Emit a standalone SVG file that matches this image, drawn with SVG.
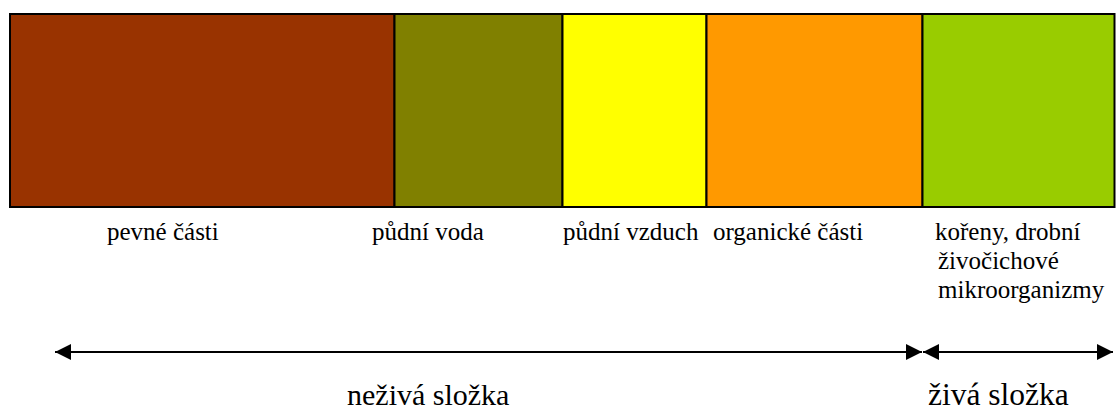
<svg xmlns="http://www.w3.org/2000/svg" width="1119" height="412" viewBox="0 0 1119 412">
<style>
.seg{stroke:#000;stroke-width:2}
text{font-family:'Liberation Serif','Times New Roman',serif;fill:#000}
.lbl{font-size:25px}
.big{font-size:30px}
.conn{stroke:#000;stroke-width:2;fill:none}
</style>
<defs>
<marker id="ah" viewBox="0 0 16 16" refX="16" refY="8" markerWidth="16" markerHeight="16" markerUnits="userSpaceOnUse" orient="auto-start-reverse">
<path d="M0,0 L16,8 L0,16 Z" fill="#000"/>
</marker>
</defs>
<rect x="0" y="0" width="1119" height="412" fill="#fff"/>
<g id="pevne"><rect class="seg" x="10" y="14" width="384.5" height="193" fill="#993300"/></g>
<g id="voda"><rect class="seg" x="394.5" y="14" width="168" height="193" fill="#808000"/></g>
<g id="vzduch"><rect class="seg" x="562.5" y="14" width="144" height="193" fill="#ffff00"/></g>
<g id="organicke"><rect class="seg" x="706.5" y="14" width="216" height="193" fill="#ff9900"/></g>
<g id="zive"><rect class="seg" x="922.5" y="14" width="192" height="193" fill="#99cc00"/></g>
<g id="labels" font-family="Liberation Serif, serif">
<text class="lbl" x="107" y="240">pevné části</text>
<text class="lbl" x="372" y="240">půdní voda</text>
<text class="lbl" x="563" y="240">půdní vzduch</text>
<text class="lbl" x="713" y="240">organické části</text>
<text class="lbl" x="935" y="240">kořeny, drobní</text>
<text class="lbl" x="938" y="269">živočichové</text>
<text class="lbl" x="938" y="298">mikroorganizmy</text>
<text class="big" x="347" y="405">neživá složka</text>
<text class="big" x="928" y="405" style="font-size:31.5px">živá složka</text>
</g>
<g id="connectors">
<line class="conn" x1="55" y1="352" x2="922" y2="352" marker-start="url(#ah)" marker-end="url(#ah)"/>
<line class="conn" x1="923" y1="352" x2="1113" y2="352" marker-start="url(#ah)" marker-end="url(#ah)"/>
</g>
</svg>
